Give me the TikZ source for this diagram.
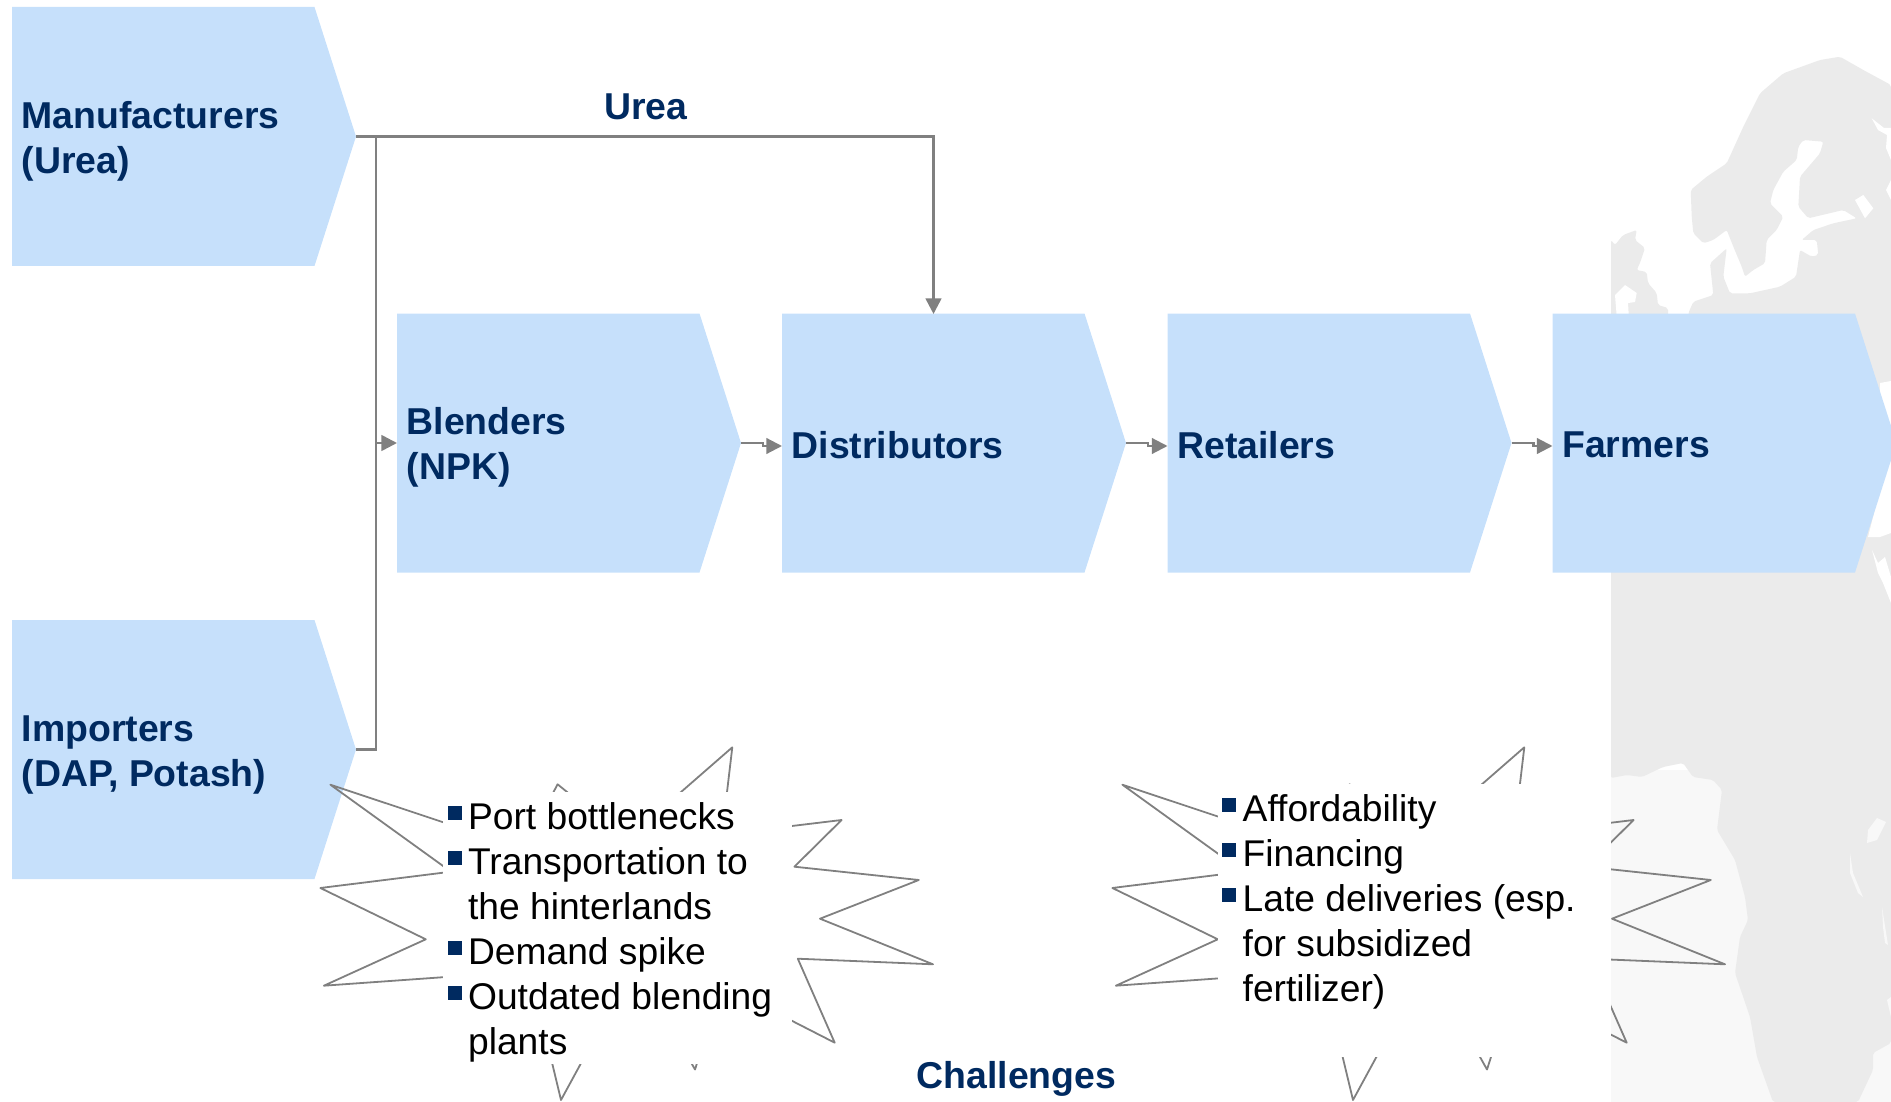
\documentclass[tikz,border=0pt]{standalone}
\usepackage{fontspec}
\setmainfont{Liberation Sans}
\usetikzlibrary{shapes.symbols,arrows.meta,calc}
\definecolor{chevfill}{HTML}{C6E0FB}
\definecolor{navy}{HTML}{002A60}
\definecolor{linegray}{HTML}{808080}
\definecolor{landgray}{HTML}{EBEBEB}
\definecolor{oceangray}{HTML}{F8F8F8}
\newcommand{\sqbullet}{\makebox[20.5pt][l]{\raisebox{9pt}{\textcolor{navy}{\rule{14pt}{14pt}}}}}
\newcommand{\hangskip}{\hspace*{20.5pt}}
\tikzset{
  x=1pt,y=-1pt,
  chev/.style={shape=signal,signal from=nowhere,signal to=east,signal pointer angle=144.46,
    fill=chevfill,draw=none,inner sep=0pt,outer sep=0pt,minimum width=344pt,minimum height=259pt,anchor=west},
  lbl/.style={font=\fontsize{37.4}{45}\selectfont\bfseries,text=navy,align=left,anchor=west,inner sep=0pt},
  listtext/.style={font=\fontsize{37.2}{45}\selectfont,text=black,align=left,anchor=north west,inner sep=0pt},
  flow/.style={draw=linegray,line width=2.6pt,-{Triangle[length=15.7pt,width=15.7pt]}},
  plainflow/.style={draw=linegray,line width=2.6pt},
  thinflow/.style={draw=linegray,line width=2.2pt,-{Triangle[length=15.7pt,width=15.7pt]}},
  panel/.style={fill=white,draw=none,inner sep=0pt,outer sep=0pt,anchor=north west},
  burst/.pic={
    \draw[linegray,line width=1.8pt,line join=round]
      (557.6,784.3)--(626,840)--(732.3,747.3)--(722,834.4)--(841.6,820)--(794.4,866.7)--(918.8,880)
      --(820,918.7)--(933,964.3)--(797.8,958.7)--(834.7,1042.7)--(722,985)--(695,1069.5)
      --(635.5,963)--(561,1100)--(530,971)--(323.9,985.7)--(425.8,939.3)--(320.4,888)--(451,871.7)
      --(330.4,784.7)--(523.5,849)--cycle;
  }
}
\begin{document}
\begin{tikzpicture}
\clip (0,0) rectangle (1891,1102);
% map
\begin{scope}
  \clip (1611,0) rectangle (1891,1102);
  \fill[oceangray] (1611,770) rectangle (1891,1102);
  \fill[landgray,rounded corners=2pt] (1688.3,313.3)--(1693.3,301.7)--(1713.3,295)--(1710,263.3)--(1726.7,248.3)--(1723.3,276.7)
   --(1730,293.3)--(1750,293.3)--(1780,286.7)--(1796,276.7)--(1800,250)--(1811.7,256.7)--(1818.3,255)
   --(1816.7,240)--(1801.7,240)--(1813.3,230)--(1833.3,223.3)--(1856.7,218.3)--(1843.3,210)--(1808.3,218.3)
   --(1798.3,206.7)--(1800,176.7)--(1820,153.3)--(1823.3,141.7)--(1803.3,140)--(1798.3,146.7)--(1796.7,160)
   --(1783.3,171.7)--(1773.3,190)--(1770,203.3)--(1783.3,216.7)--(1776.7,230)--(1766.7,240)--(1765,263.3)
   --(1753.3,270)--(1745,276.7)--(1741.7,266.7)--(1733.3,246.7)--(1726.7,230)--(1713.3,240)--(1703.3,243.3)
   --(1693.3,233.3)--(1691.7,216.7)--(1690.7,190)--(1706.7,176.7)--(1726.7,163.3)--(1743.3,126.7)--(1760,93.3)
   --(1783.3,73.3)--(1820,60)--(1840,56.7)--(1863.3,70)--(1891,85)--(1891,1043)--(1873,1053)--(1873,1070)
   --(1858,1102)--(1773,1102)--(1757,1057)--(1750,1017)--(1735,973)--(1740,937)--(1748,920)--(1745,897)
   --(1735,860)--(1717,830)--(1722,790)--(1713,780)--(1693,777)--(1683,763)--(1663,767)--(1642,777)
   --(1627,775)--(1611,778)--(1611,320)--(1688,320)--cycle;
  \fill[landgray,rounded corners=2pt] (1611,240)--(1615,245)--(1623,235)--(1636.7,230)--(1635,240)--(1645,248)--(1640,263)
   --(1636.7,270)--(1646.7,272)--(1648,283)--(1656.7,293)--(1658,305)--(1668,308)--(1668,320)--(1611,320)--cycle;
  \fill[white] (1615,295)--(1625,285)--(1636.7,293)--(1635,302)--(1628,303)--(1629,320)--(1617,320)--cycle;
  \fill[white] (1871.7,118.3)--(1884,128)--(1891,128)--(1891,160)--(1886,148)--(1887,135)--(1878,130)--cycle;
  \fill[white] (1891,180)--(1886,190)--(1891,200)--cycle;
  \fill[white] (1855,200)--(1863.3,195)--(1873.3,208.3)--(1865,218.3)--cycle;
  \fill[white] (1880,383)--(1891,381)--(1891,533)--(1880,537)--(1868,537)--(1880,490)--(1880,420)--cycle;
  \fill[white] (1872,550)--(1878,563)--(1885,557)--(1891,577)--(1891,603)--(1883,583)--(1878,573)--cycle;
  \fill[oceangray] (1868,830)--(1877,818)--(1886,822)--(1882,830)--(1877,840)--(1867,843)--cycle;
  \fill[oceangray] (1850,853)--(1853,873)--(1863,897)--(1858,893)--(1850,873)--cycle;
  \fill[oceangray] (1882,907)--(1888,945)--(1885,943)--(1883,927)--cycle;
  \fill[oceangray] (1887,1000)--(1891,997)--(1891,1017)--cycle;
\end{scope}
% chevrons
\node[chev] (man) at (12,136.5) {};
\node[chev] (imp) at (12,749.5) {};
\node[chev] (blend) at (397,443) {};
\node[chev] (dist) at (782,443) {};
\node[chev] (ret) at (1167.5,443) {};
\node[chev] (farm) at (1552.5,443) {};
\node[lbl] (manl) at ($(man.west)+(9.5,5.3)$) {Manufacturers\\(Urea)};
\node[lbl] (impl) at ($(imp.west)+(9.5,5.5)$) {Importers\\(DAP, Potash)};
\node[lbl] (blendl) at ($(blend.west)+(9.5,4.8)$) {Blenders\\(NPK)};
\node[lbl] (distl) at ($(dist.west)+(9.5,1.7)$) {Distributors};
\node[lbl] (retl) at ($(ret.west)+(9.5,1.7)$) {Retailers};
\node[lbl] (farml) at ($(farm.west)+(9.5,1.7)$) {Farmers};
% connectors
\coordinate (bustop) at (376,136.5);
\coordinate (busmid) at (376,443);
\coordinate (distin) at (933.5,314);
\draw[flow] (man.east) -| (distin);
\draw[plainflow] (imp.east) -| (bustop);
\draw[flow] (busmid) -- (blend.west);
\draw[thinflow] (blend.east) -- ++(22,0) |- ($(dist.west)+(0,3)$);
\draw[thinflow] (dist.east) -- ++(22,0) |- ($(ret.west)+(0,3)$);
\draw[thinflow] (ret.east) -- ++(22,0) |- ($(farm.west)+(0,3)$);
% bursts
\pic at (0,0) {burst};
\pic at (792,0) {burst};
\node[panel,minimum width=349pt,minimum height=272pt] (leftpanel) at (443,792) {};
\node[panel,minimum width=393pt,minimum height=272.7pt] (rightpanel) at (1218,784) {};
\node[listtext] (leftlist) at (447.4,802.2) {\sqbullet Port bottlenecks\\\sqbullet Transportation to\\\hangskip the hinterlands\\\sqbullet Demand spike\\\sqbullet Outdated blending\\\hangskip plants};
\node[listtext] (rightlist) at (1222,794.2) {\sqbullet Affordability\\\sqbullet Financing\\\sqbullet Late deliveries (esp.\\\hangskip for subsidized\\\hangskip fertilizer)};
\node[lbl,anchor=center] (urea) at (646,107) {Urea};
\node[lbl,anchor=center] (chal) at (1016.5,1078.6) {Challenges};
\end{tikzpicture}
\end{document}
